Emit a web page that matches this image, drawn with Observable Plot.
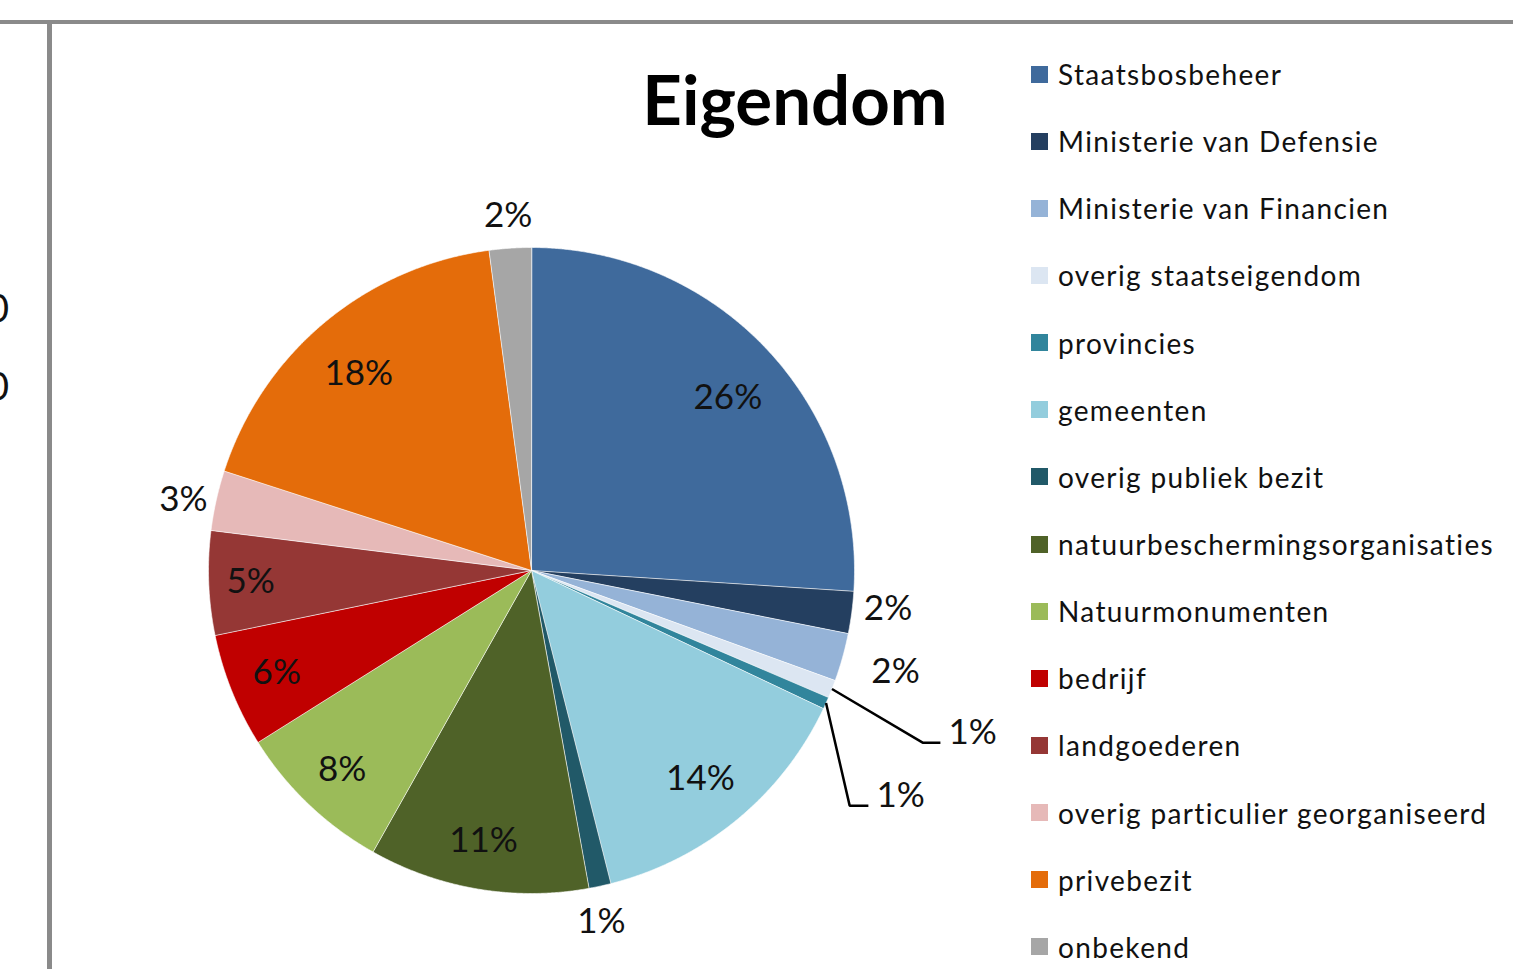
<!DOCTYPE html>
<html><head><meta charset="utf-8">
<script src="https://cdn.jsdelivr.net/npm/d3@7"></script>
<script src="https://cdn.jsdelivr.net/npm/@observablehq/plot@0.6"></script>
<style>
html,body{margin:0;padding:0;background:#fff;overflow:hidden}
#page{position:relative;width:1513px;height:969px;font-family:Lato,"Noto Sans",sans-serif;color:#111}
.hline{position:absolute;left:0;top:20px;width:1513px;height:4px;background:#8a8a8a}
.vline{position:absolute;left:47px;top:20px;width:5px;height:949px;background:#8a8a8a}
#chart{position:absolute;left:0;top:0}
#title{position:absolute;left:495px;width:600px;top:64px;text-align:center;font-weight:700;font-size:69px;line-height:69px;color:#000}
#legend{position:absolute;left:1031px;top:40.5px}
.row{height:67.15px;display:flex;align-items:center;font-size:28px;letter-spacing:1.35px;white-space:nowrap}
.sw{width:17px;height:17px;margin-right:10px;flex:none}
.zero{position:absolute;left:-21px;width:30px;text-align:right;font-size:38px;line-height:38px}
</style></head>
<body><div id="page">
<div class="hline"></div><div class="vline"></div>
<div class="zero" style="top:288px">0</div>
<div class="zero" style="top:366px">0</div>
<div id="chart"></div>
<div id="title">Eigendom</div>
<div id="legend"></div>
</div>
<script>
// ---- data ----
const categories = ["Staatsbosbeheer","Ministerie van Defensie","Ministerie van Financien","overig staatseigendom","provincies","gemeenten","overig publiek bezit","natuurbeschermingsorganisaties","Natuurmonumenten","bedrijf","landgoederen","overig particulier georganiseerd","privebezit","onbekend"];
const shares = [26.0, 2.1, 2.4, 0.9, 0.6, 14.0, 1.1, 11.0, 7.9, 5.7, 5.2, 3.0, 17.9, 2.1];
const percentLabels = ["26%","2%","2%","1%","1%","14%","1%","11%","8%","6%","5%","3%","18%","2%"];
const colors = ["#3F6A9C","#243F60","#95B3D7","#DCE6F2","#31859C","#93CDDD","#215968","#4F6228","#9BBB59","#C00000","#953735","#E6B9B8","#E46C0A","#A6A6A6"];

// ---- label layout (radius in pie units, angle tweak in degrees) ----
const labelLayout = {
  "Staatsbosbeheer": {r: 0.81, da: 1.8},
  "Ministerie van Defensie": {r: 1.11, da: -1.4},
  "Ministerie van Financien": {r: 1.17, da: 0},
  "overig staatseigendom": {leader: [[1.211, -0.533], [1.266, -0.533]]},
  "provincies": {leader: [[0.985, -0.728], [1.043, -0.728]]},
  "gemeenten": {r: 0.83, da: 0.4},
  "overig publiek bezit": {r: 1.11, da: 1},
  "natuurbeschermingsorganisaties": {r: 0.85, da: 0.5},
  "Natuurmonumenten": {r: 0.85, da: 0},
  "bedrijf": {r: 0.85, da: 0},
  "landgoederen": {r: 0.87, da: 0},
  "overig particulier georganiseerd": {r: 1.10, da: -1},
  "privebezit": {r: 0.81, da: -1.5},
  "onbekend": {r: 1.10, da: 0}
};

const rows = categories.map((c, i) => ({cat: c, share: shares[i], label: percentLabels[i]}));
const arcs = d3.pie().sort(null).value(d => d.share)(rows);

// slice outlines in pie units (radius 1)
const slicePts = [];
for (const a of arcs) {
  slicePts.push({cat: a.data.cat, x: 0, y: 0});
  const n = Math.max(2, Math.ceil((a.endAngle - a.startAngle) / 0.004));
  for (let k = 0; k <= n; k++) {
    const t = a.startAngle + (a.endAngle - a.startAngle) * k / n;
    slicePts.push({cat: a.data.cat, x: Math.sin(t), y: Math.cos(t)});
  }
}

const plainLabels = [], leaderLabels = [], leaderPts = [];
for (const a of arcs) {
  const L = labelLayout[a.data.cat];
  const mid = (a.startAngle + a.endAngle) / 2;
  if (L.leader) {
    leaderPts.push({cat: a.data.cat, x: Math.sin(mid), y: Math.cos(mid)});
    for (const p of L.leader) leaderPts.push({cat: a.data.cat, x: p[0], y: p[1]});
    const e = L.leader[L.leader.length - 1];
    leaderLabels.push({x: e[0], y: e[1], text: a.data.label});
  } else {
    const t = mid + L.da * Math.PI / 180;
    plainLabels.push({x: L.r * Math.sin(t), y: L.r * Math.cos(t), text: a.data.label});
  }
}

const cx = 531, cy = 570, R = 323;
const chart = Plot.plot({
  width: 1513, height: 969, margin: 0,
  x: {domain: [-1, 1], range: [cx - R, cx + R], axis: null},
  y: {domain: [-1, 1], range: [cy + R, cy - R], axis: null},
  color: {domain: categories, range: colors},
  style: {background: "transparent", fontFamily: "Lato, 'Noto Sans', sans-serif"},
  marks: [
    Plot.line(slicePts, {x: "x", y: "y", z: "cat", fill: "cat", stroke: "white", strokeWidth: 1, strokeOpacity: 0.6, curve: "linear-closed"}),
    Plot.line(leaderPts, {x: "x", y: "y", z: "cat", stroke: "black", strokeWidth: 2.5, strokeLinecap: "butt", strokeLinejoin: "miter", curve: "linear"}),
    Plot.text(plainLabels, {x: "x", y: "y", text: "text", fontSize: 35, fill: "#111", lineAnchor: "middle"}),
    Plot.text(leaderLabels, {x: "x", y: "y", text: "text", fontSize: 35, fill: "#111", textAnchor: "start", lineAnchor: "bottom", dx: 8, dy: 1})
  ]
});
document.getElementById("chart").appendChild(chart);

const legend = document.getElementById("legend");
categories.forEach((c, i) => {
  const r = document.createElement("div");
  r.className = "row";
  const s = document.createElement("span");
  s.className = "sw"; s.style.background = colors[i];
  const t = document.createElement("span");
  t.textContent = c;
  r.appendChild(s); r.appendChild(t);
  legend.appendChild(r);
});
</script>
</body></html>
